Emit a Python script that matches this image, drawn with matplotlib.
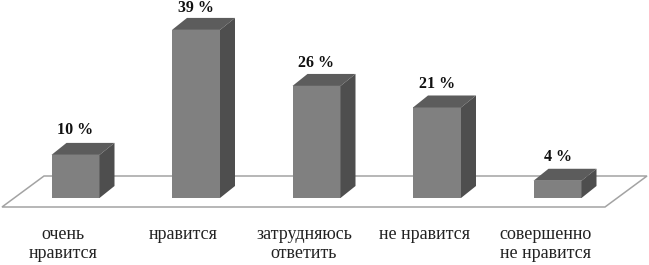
import numpy as np
import matplotlib
matplotlib.use('Agg')
import matplotlib.pyplot as plt

categories = ['очень\nнравится', 'нравится', 'затрудняюсь\nответить', 'не нравится', 'совершенно\nне нравится']
values = [10, 39, 26, 21, 4]

WIDTH, HEIGHT = 649, 265
STEP = 120.5       # px between bars
FIRST = 75.5       # px centre of first bar
BASE = 198         # px of value 0
UNIT = 4.31        # px per percent
BAR = 48 / STEP
DX = 15 / STEP
DY = 12 / UNIT
LABEL_GAP = [18, 15.8, 16.2, 16.6, 17.3]   # pt above the bar top, not quite even in the original

plt.rcParams['font.family'] = ['Liberation Serif', 'DejaVu Serif']

fig = plt.figure(figsize=(WIDTH / 100, HEIGHT / 100), dpi=100)
ax = fig.add_axes([0, 0, 1, 1])
ax.set_xlim(-FIRST / STEP, (WIDTH - FIRST) / STEP)
ax.set_ylim((BASE - HEIGHT) / UNIT, BASE / UNIT)
ax.axis('off')

# floor of the 3d box
fx0, fx1 = (2 - FIRST) / STEP, (605 - FIRST) / STEP
bx0, bx1 = (44 - FIRST) / STEP, (647 - FIRST) / STEP
fy, by = (BASE - 207) / UNIT, (BASE - 176) / UNIT
ax.fill([fx0, fx1, bx1, bx0], [fy, fy, by, by], facecolor='white',
        edgecolor='#a3a3a3', linewidth=1.1, joinstyle='miter', zorder=1)

for i, v in enumerate(values):
    x0, x1 = i - BAR / 2, i + BAR / 2
    ax.fill([x0, x1, x1, x0], [0, 0, v, v], color='#808080', lw=0, zorder=3)
    ax.fill([x0, x1, x1 + DX, x0 + DX], [v, v, v + DY, v + DY], color='#5c5c5c', lw=0, zorder=3)
    ax.fill([x1, x1 + DX, x1 + DX, x1], [0, DY, v + DY, v], color='#4e4e4e', lw=0, zorder=3)
    ax.annotate(f'{v} %', (i, v), xytext=(0, LABEL_GAP[i]), textcoords='offset points',
                ha='center', va='center', fontsize=11.5, fontweight='bold', color='#111111')
    ax.annotate(categories[i], (i, 0), xytext=(-9, -20.5), textcoords='offset points',
                ha='center', va='top', fontsize=13, color='#222222', linespacing=1.12)

fig.savefig('out.png', dpi=100)
